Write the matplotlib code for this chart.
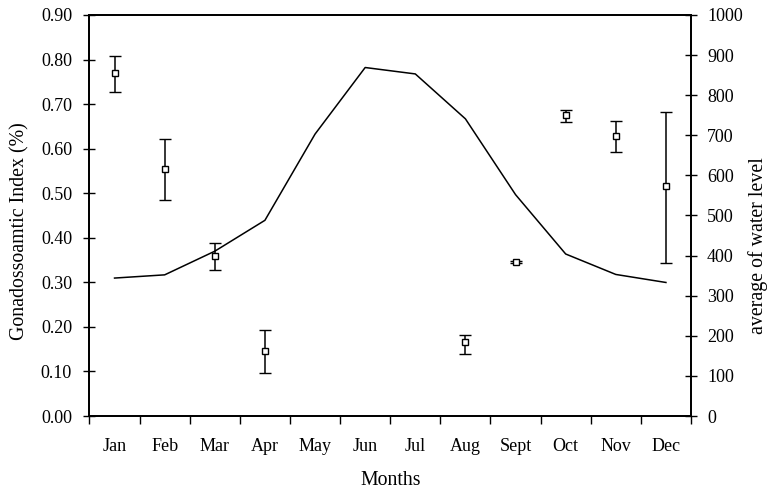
import matplotlib
matplotlib.use('Agg')
import matplotlib.pyplot as plt
from matplotlib.ticker import FormatStrFormatter, FixedLocator
import numpy as np

plt.rcParams['font.family'] = ['Liberation Serif', 'DejaVu Serif']

# データ
months = ['Jan', 'Feb', 'Mar', 'Apr', 'May', 'Jun', 'Jul', 'Aug', 'Sept', 'Oct', 'Nov', 'Dec']

# GSI (%) : 月ごとの平均値と誤差範囲（May-Julはデータなし）
gsi_months = ['Jan', 'Feb', 'Mar', 'Apr', 'Aug', 'Sept', 'Oct', 'Nov', 'Dec']
gsi_mean = [0.770, 0.554, 0.360, 0.147, 0.165, 0.346, 0.675, 0.628, 0.517]
gsi_low = [0.728, 0.485, 0.328, 0.096, 0.140, 0.343, 0.660, 0.592, 0.344]
gsi_high = [0.809, 0.621, 0.389, 0.193, 0.182, 0.349, 0.687, 0.661, 0.683]

# 平均水位
water_level = [344, 352, 411, 488, 703, 869, 853, 741, 552, 404, 353, 333]

fs_tick = 13
fs_label = 14.3

fig = plt.figure(figsize=(7.7, 4.91), dpi=100)
ax1 = fig.add_axes([0.1162, 0.1527, 0.7812, 0.8168])
ax2 = ax1.twinx()

x_all = np.arange(len(months))
x_gsi = np.array([months.index(m) for m in gsi_months])
mean = np.array(gsi_mean)
yerr = [mean - np.array(gsi_low), np.array(gsi_high) - mean]

# 水位の折れ線（右軸）
ax2.plot(x_all, water_level, color='black', linewidth=1.1, zorder=2)

# GSIのエラーバー（左軸）
ax1.errorbar(x_gsi, mean, yerr=yerr, fmt='s', markersize=4.2,
             markerfacecolor='white', markeredgecolor='black', markeredgewidth=1.0,
             ecolor='black', elinewidth=1.1, capsize=4.2, capthick=1.1, zorder=3)
ax1.set_zorder(ax2.get_zorder() + 1)
ax1.patch.set_visible(False)

ax1.set_xlim(-0.5, 11.5)
ax1.set_ylim(0, 0.9)
ax2.set_ylim(0, 1000)

ax1.yaxis.set_major_locator(FixedLocator(np.arange(0, 0.91, 0.1)))
ax1.yaxis.set_major_formatter(FormatStrFormatter('%.2f'))
ax2.yaxis.set_major_locator(FixedLocator(np.arange(0, 1001, 100)))

# x軸: 境界に目盛り、中央にラベル
ax1.set_xticks(np.arange(-0.5, 12, 1.0))
ax1.set_xticklabels([])
ax1.set_xticks(x_all, minor=True)
ax1.set_xticklabels(months, minor=True)
ax1.tick_params(axis='x', which='major', direction='out', length=6, width=1.0)
ax1.tick_params(axis='x', which='minor', length=0, pad=16, labelsize=fs_tick)
ax1.tick_params(axis='y', direction='inout', length=9, width=1.0, labelsize=fs_tick, pad=8)
ax2.tick_params(axis='y', direction='inout', length=9, width=1.0, labelsize=fs_tick, pad=7)

for ax in (ax1, ax2):
    for s in ax.spines.values():
        s.set_linewidth(1.3)

ax1.set_xlabel('Months', fontsize=fs_label, labelpad=11)
ax1.set_ylabel('Gonadossoamtic Index (%)', fontsize=fs_label, va='center')
ax2.set_ylabel('average of water level', fontsize=fs_label, va='center')
ax1.yaxis.set_label_coords(-0.1155, 0.461)
ax2.yaxis.set_label_coords(1.111, 0.424)

fig.savefig('out.png', dpi=100)
